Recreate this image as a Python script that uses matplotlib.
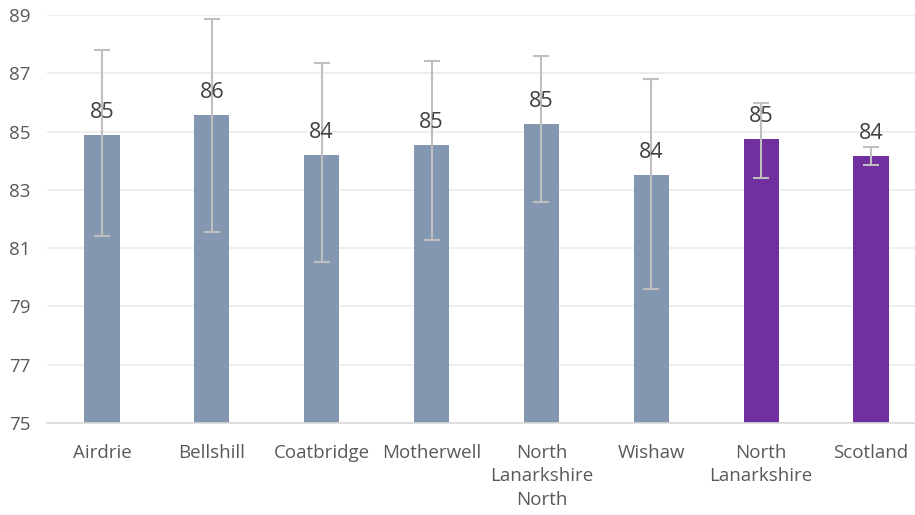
import matplotlib.pyplot as plt

areas = ['Airdrie', 'Bellshill', 'Coatbridge', 'Motherwell', 'North\nLanarkshire\nNorth',
         'Wishaw', 'North\nLanarkshire', 'Scotland']
values = [84.88, 85.57, 84.2, 84.54, 85.26, 83.51, 84.75, 84.16]
upper = [87.8, 88.86, 87.35, 87.42, 87.59, 86.8, 85.98, 84.47]
lower = [81.42, 81.55, 80.52, 81.28, 82.58, 79.6, 83.41, 83.85]
colors = ['#8497B0'] * 6 + ['#7030A0'] * 2

plt.rcParams['font.family'] = ['Open Sans', 'DejaVu Sans']

fig = plt.figure(figsize=(9.15, 5.15), dpi=100)
ax = fig.add_axes([47 / 915, 92 / 515, 868 / 915, 408 / 515])

x = list(range(len(areas)))
ax.bar(x, [v - 75 for v in values], bottom=75, width=0.32, color=colors, zorder=2)
yerr = [[v - lo for v, lo in zip(values, lower)], [up - v for v, up in zip(values, upper)]]
ax.errorbar(x, values, yerr=yerr, fmt='none', ecolor='#BFBFBF', elinewidth=1.5,
            capsize=6, capthick=1.5, zorder=3)

for i, v in enumerate(values):
    ax.annotate(str(round(v)), (i, v), xytext=(0, 12), textcoords='offset points',
                ha='center', va='baseline', fontsize=15.5, color='#404040', zorder=4)

ax.set_xlim(-0.5, 7.4)
ax.set_ylim(75, 89)
ax.set_yticks(range(75, 90, 2))
ax.set_xticks(x)
ax.set_xticklabels(areas, linespacing=1.4)
ax.tick_params(axis='both', length=0, labelsize=13.5, colors='#595959')
ax.tick_params(axis='x', pad=15)
ax.tick_params(axis='y', pad=12)
ax.grid(axis='y', color='#EBEBEB', linewidth=1.2, zorder=0)
for s in ['top', 'right', 'left']:
    ax.spines[s].set_visible(False)
ax.spines['bottom'].set_color('#D9D9D9')
ax.spines['bottom'].set_linewidth(1.2)

fig.savefig('out.png', dpi=100)
